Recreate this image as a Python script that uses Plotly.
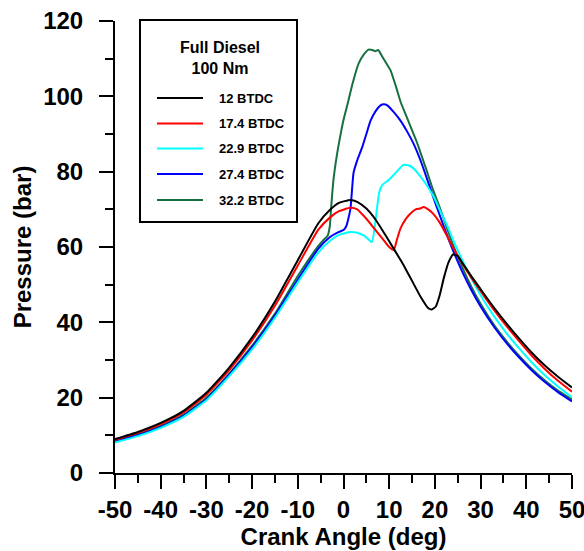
import plotly.graph_objects as go

# ---------------- data ----------------
x_12 = [-50, -45, -40, -35, -30, -25, -20, -15, -10, -5.5, -3, -1, 1.5, 3, 5, 7, 9, 11, 13, 15, 17,
        18.5, 19.3, 20.2, 21, 22, 23, 24, 25, 26, 27, 28, 30, 33, 36, 38.5, 41, 44, 47, 50]
p_12 = [9.0, 10.9, 13.3, 16.5, 21.3, 28.0, 36.0, 45.5, 56.5, 66.3, 69.8, 71.7, 72.5, 72.0, 70.2,
        67.3, 63.5, 59.5, 55.5, 51.0, 46.5, 43.8, 43.4, 44.2, 47.0, 52.0, 56.0, 58.0, 57.6, 55.8,
        54.0, 52.2, 48.8, 43.8, 39.2, 35.6, 32.2, 28.6, 25.5, 22.7]

x_174 = [-50, -45, -40, -35, -30, -25, -20, -15, -10, -5.5, -3, -1, 1.5, 3, 5, 7, 9, 10, 11, 11.7,
         12.5, 13.5, 14.5, 15.8, 16.8, 17.5, 18.5, 19.5, 21, 22.5, 24, 26, 28, 30, 33, 36, 38.5,
         41, 44, 47, 50]
p_174 = [8.8, 10.65, 13.0, 16.1, 20.8, 27.35, 35.2, 44.4, 55.1, 64.6, 67.8, 69.5, 70.4, 70.0, 67.5,
         64.5, 61.5, 60.0, 59.2, 62.0, 65.0, 67.2, 68.7, 70.0, 70.2, 70.6, 70.0, 69.0, 66.6, 63.3,
         59.8, 55.6, 51.8, 48.3, 43.2, 38.5, 34.9, 31.4, 27.7, 24.4, 21.6]

x_229 = [-50, -45, -40, -35, -30, -25, -20, -15, -10, -5.5, -3, -1, 1.5, 3, 4.5, 5.5, 6.2, 6.8, 7.3,
         7.8, 8.5, 9.9, 11.5, 13.1, 14.2, 15.2, 16.2, 18, 19.7, 21, 22.8, 24, 26, 28, 30, 33, 36,
         38.5, 41, 44, 47, 50]
p_229 = [8.1, 9.8, 12.0, 14.9, 19.3, 25.7, 32.8, 41.2, 50.6, 58.6, 61.6, 63.2, 64.0, 63.8, 63.0,
         62.0, 61.3, 65.0, 70.0, 74.4, 76.5, 77.8, 79.8, 81.8, 81.7, 81.0, 79.7, 76.8, 73.4, 70.0,
         65.4, 61.8, 56.5, 51.6, 47.2, 41.5, 36.6, 33.0, 29.6, 26.0, 22.9, 20.1]

x_274 = [-50, -45, -40, -35, -30, -25, -20, -15, -10, -5.5, -3, -1, 0, 0.6, 1.5, 2.2, 3, 4.1, 5,
         5.9, 7, 8.1, 8.8, 9.6, 11, 12.5, 14, 15.3, 17, 18.5, 20, 22, 24, 26, 28, 30, 33, 36,
         38.5, 41, 44, 47, 50]
p_274 = [8.3, 10.05, 12.25, 15.2, 19.6, 26.1, 33.4, 41.8, 51.3, 59.6, 62.6, 64.0, 64.5, 65.5, 70.0,
         79.7, 83.0, 86.5, 90.0, 93.5, 96.0, 97.6, 97.9, 97.6, 95.8, 93.5, 90.5, 87.5, 82.5, 77.3,
         72.0, 65.3, 59.0, 53.4, 48.5, 44.2, 38.7, 34.0, 30.6, 27.5, 24.2, 21.4, 19.0]

x_322 = [-50, -45, -40, -35, -30, -25, -20, -15, -10, -5.5, -4.5, -3.5, -3, -2.7, -2.2, -1.5,
         -0.7, 0, 1, 2, 3.3, 4.5, 5.5, 6.3, 7, 7.6, 8.5, 9.5, 10.3, 11.5, 12.5, 14, 16, 18, 19.5,
         21.2, 23, 24, 26, 28, 30, 33, 36, 38.5, 41, 44, 47, 50]
p_322 = [8.5, 10.3, 12.5, 15.5, 20.0, 26.4, 33.8, 42.3, 52.3, 60.3, 61.7, 62.9, 65.5, 70.5, 77.8,
         84.0, 89.5, 93.7, 98.5, 103.5, 108.7, 111.2, 112.4, 112.3, 112.0, 112.3, 110.5, 108.5,
         106.9, 102.5, 98.5, 94.0, 88.0, 81.0, 75.5, 70.0, 63.8, 60.5, 54.6, 49.4, 44.9, 39.2,
         34.5, 31.0, 27.9, 24.6, 21.8, 19.5]

series_names = ["12 BTDC", "17.4 BTDC", "22.9 BTDC", "27.4 BTDC", "32.2 BTDC"]
series_x = [x_12, x_174, x_229, x_274, x_322]
series_p = [p_12, p_174, p_229, p_274, p_322]
series_colors = ["#000000", "#ff0000", "#00ffff", "#0000ff", "#17703f"]

x_ticks = [-50, -40, -30, -20, -10, 0, 10, 20, 30, 40, 50]
y_ticks = [0, 20, 40, 60, 80, 100, 120]
legend_title = ["Full Diesel", "100 Nm"]

# ---------------- figure ----------------
W, H = 584, 551
ML, MR, MT, MB = 115, 12, 21, 78
PW, PH = W - ML - MR, H - MT - MB

def px(xp):
    return (xp - ML) / PW

def py(yp):
    return (H - MB - yp) / PH

fig = go.Figure()
order = [4, 3, 2, 1, 0]
for i in order:
    fig.add_trace(go.Scatter(
        x=series_x[i], y=series_p[i], mode="lines", name=series_names[i],
        line=dict(color=series_colors[i], width=2, shape="spline", smoothing=0.5),
        showlegend=False, hoverinfo="skip"))

FONT = "Liberation Sans, Arial, sans-serif"

shapes = [dict(type="rect", xref="paper", yref="paper",
               x0=px(140), x1=px(297), y0=py(222), y1=py(20),
               line=dict(color="black", width=2), fillcolor="white", layer="above")]
annotations = [dict(xref="paper", yref="paper", x=px(220), y=py(58),
                    text="<br>".join(legend_title), showarrow=False,
                    font=dict(family=FONT, size=16, color="black", weight="bold"),
                    xanchor="center", yanchor="middle", align="center")]
row_y = [98, 123.5, 148.5, 174, 200]
for k in range(5):
    shapes.append(dict(type="line", xref="paper", yref="paper",
                       x0=px(157), x1=px(203), y0=py(row_y[k]), y1=py(row_y[k]),
                       line=dict(color=series_colors[k], width=2), layer="above"))
    annotations.append(dict(xref="paper", yref="paper", x=px(217), y=py(row_y[k]),
                            text=series_names[k], showarrow=False,
                            font=dict(family=FONT, size=13, color="black", weight="bold"),
                            xanchor="left", yanchor="middle"))

axis_common = dict(showgrid=False, zeroline=False, showline=True, linecolor="black",
                   linewidth=2, ticks="outside", ticklen=14, tickwidth=2, tickcolor="black",
                   tickfont=dict(family=FONT, size=24, color="black", weight="bold"),
                   ticklabeloverflow="allow", automargin=False, mirror=False)

fig.update_layout(
    width=W, height=H,
    margin=dict(l=ML, r=MR, t=MT, b=MB, pad=0, autoexpand=False),
    paper_bgcolor="white", plot_bgcolor="white",
    shapes=shapes, annotations=annotations,
    xaxis=dict(range=[-50, 50], tickvals=x_ticks, ticktext=[str(v) for v in x_ticks],
               minor=dict(ticks="outside", dtick=5, ticklen=8, tickwidth=2, tickcolor="black"),
               title=dict(text="Crank Angle (deg)", standoff=4,
                          font=dict(family=FONT, size=24, color="black", weight="bold")),
               **axis_common),
    yaxis=dict(range=[0, 120], tickvals=y_ticks, ticktext=[str(v) for v in y_ticks],
               minor=dict(ticks="outside", dtick=10, ticklen=8, tickwidth=2, tickcolor="black"),
               ticklabelstandoff=11,
               title=dict(text="Pressure (bar)", standoff=5,
                          font=dict(family=FONT, size=24, color="black", weight="bold")),
               **axis_common),
)

fig.write_html("out.html")
